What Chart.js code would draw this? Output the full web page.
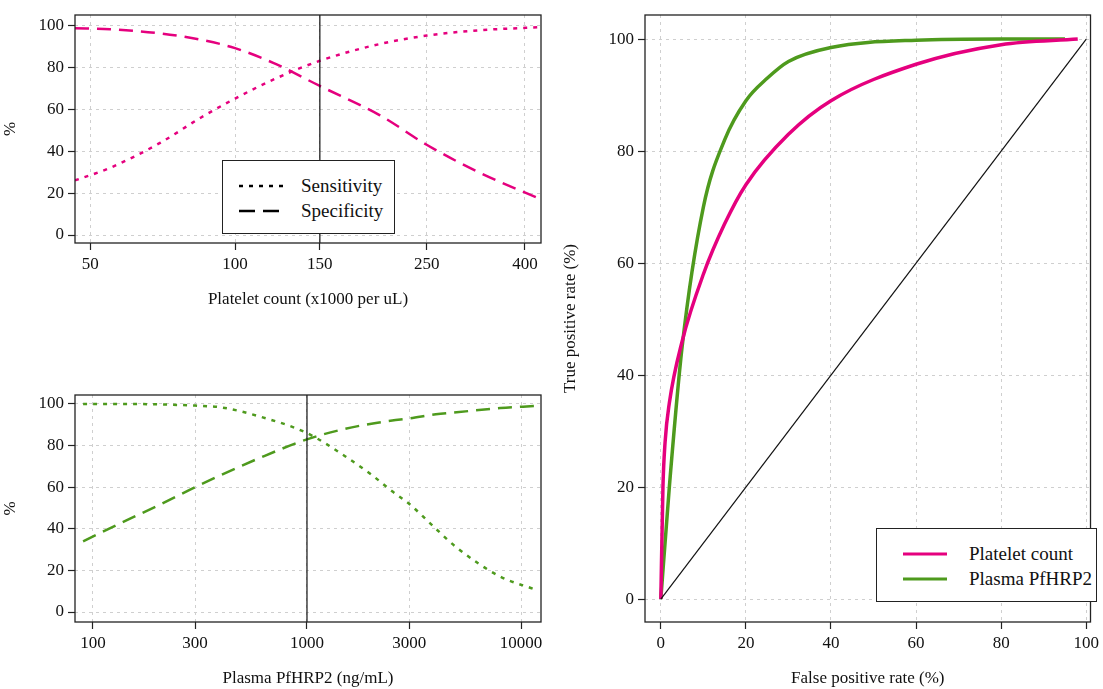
<!DOCTYPE html>
<html><head><meta charset="utf-8">
<script src="https://cdn.jsdelivr.net/npm/chart.js@4"></script>
<style>
body{margin:0;background:#fff;width:1103px;height:689px;overflow:hidden;position:relative;font-family:"Liberation Serif","DejaVu Serif",serif;}
.c{position:absolute;}
.leg{position:absolute;border:1.3px solid #222;background:#fff;font-size:19px;color:#111;}
.leg div{display:flex;align-items:center;height:25px;}
.leg svg{margin:0 14px 0 14px;}
</style></head><body>
<div class="c" style="left:0;top:0;width:560px;height:310px"><canvas id="c1"></canvas></div>
<div class="c" style="left:0;top:380px;width:560px;height:309px"><canvas id="c2"></canvas></div>
<div class="c" style="left:560px;top:0;width:543px;height:689px"><canvas id="c3"></canvas></div>
<div class="leg" style="left:222px;top:160px;width:173px;height:74px;padding-top:12px;box-sizing:border-box">
 <div><svg width="50" height="4"><line x1="2" y1="2" x2="48" y2="2" stroke="#000" stroke-width="2.5" stroke-dasharray="4,6"/></svg>Sensitivity</div>
 <div><svg width="50" height="4"><line x1="2" y1="2" x2="48" y2="2" stroke="#000" stroke-width="2.5" stroke-dasharray="16,8"/></svg>Specificity</div>
</div>
<div class="leg" style="left:876px;top:528px;width:221px;height:74px;padding-top:12px;box-sizing:border-box">
 <div><svg width="44" height="4" style="margin:0 22px 0 26px"><line x1="0" y1="2" x2="44" y2="2" stroke="#E5007E" stroke-width="3"/></svg>Platelet count</div>
 <div><svg width="44" height="4" style="margin:0 22px 0 26px"><line x1="0" y1="2" x2="44" y2="2" stroke="#4E9A1D" stroke-width="3"/></svg>Plasma PfHRP2</div>
</div>
<script>
const PINK="#E5007E", GREEN="#4E9A1D";
// Panel 1: platelet count
const plateletX   =[46.5,55,70,85,100,120,150,200,250,320,432];
const plateletSens=[26,32,44,56,65,74,83,91,95,97.5,99];
const plateletSpec=[98.5,98,96,93,89,82,71,57,43,30,17];
const plateletTicks=[50,100,150,250,400];
// Panel 2: plasma PfHRP2
const hrpX   =[90,150,200,300,400,600,1000,1500,2000,2500,3000,4000,5000,8000,11500];
const hrpSens=[100,100,99.8,99.2,98.3,94,86,75,66,58,52,40,31,17,11];
const hrpSpec=[34,45,51,60,66,74,83,88,90.5,92,93,95,96,98,99];
const hrpTicks=[100,300,1000,3000,10000];
// Panel 3: ROC
const rocPlateletFPR=[0,0.5,1,2,5,10,15,20,30,40,60,80,98];
const rocPlateletTPR=[0,20,28,35,46,58,67,74,83,89,95.5,99,100];
const rocHrpFPR=[0,2,5,10,15,20,25,30,40,60,80,95];
const rocHrpTPR=[0,20,45,70,82,89,93,96,98.5,99.8,100,100];
const linTicks=[0,20,40,60,80,100];

const F={family:"'Liberation Serif', serif",size:17};
Chart.defaults.color="#111";
const zip=(a,b)=>a.map((v,i)=>({x:v,y:b[i]}));
const boxPlugin={id:'box',afterDatasetsDraw(ch,a,o){const c=ch.ctx,A=ch.chartArea;c.save();
 if(o.vline!=null){const x=ch.scales.x.getPixelForValue(o.vline);c.strokeStyle='#111';c.lineWidth=1.2;c.beginPath();c.moveTo(x,A.top);c.lineTo(x,A.bottom);c.stroke();}
 c.strokeStyle='#222';c.lineWidth=1.3;c.strokeRect(A.left,A.top,A.right-A.left,A.bottom-A.top);c.restore();}};
function axis(type,min,max,ticks,title,size,pad){
 return {type,min,max,
  afterBuildTicks:s=>{s.ticks=ticks.map(v=>({value:v}));},
  afterFit:s=>{if(s.isHorizontal())s.height=size;else s.width=size;},
  ticks:{font:F,color:'#111',autoSkip:false,maxRotation:0,padding:4,callback:v=>String(v)},
  grid:{color:'#cfcfcf',tickBorderDash:[],tickColor:'#222',tickLength:7,tickWidth:1.2,lineWidth:1},
  border:{display:false,dash:[3,4]},
  title:{display:true,text:title,font:F,color:'#111',padding:pad}};
}
function mk(id,datasets,x,y,pad,vline){
 new Chart(document.getElementById(id),{type:'line',data:{datasets},
  options:{responsive:true,maintainAspectRatio:false,animation:false,
   layout:{padding:pad},
   plugins:{legend:{display:false},tooltip:{enabled:false},box:{vline}},
   elements:{point:{radius:0},line:{cubicInterpolationMode:'monotone'}},
   scales:{x,y}},plugins:[boxPlugin]});
}
mk('c1',[
 {data:zip(plateletX,plateletSens),borderColor:PINK,borderWidth:2.5,borderDash:[4,6]},
 {data:zip(plateletX,plateletSpec),borderColor:PINK,borderWidth:2.5,borderDash:[14,8]}],
 axis('logarithmic',46.5,432,plateletTicks,'Platelet count (x1000 per uL)',67,{top:12,bottom:0}),
 axis('linear',-3.8,104.8,linTicks,'%',75,{top:0,bottom:25}),
 {top:15,right:19},150);
mk('c2',[
 {data:zip(hrpX,hrpSens),borderColor:GREEN,borderWidth:2.5,borderDash:[4,6]},
 {data:zip(hrpX,hrpSpec),borderColor:GREEN,borderWidth:2.5,borderDash:[14,8]}],
 axis('logarithmic',82.5,12390,hrpTicks,'Plasma PfHRP2 (ng/mL)',67,{top:12,bottom:0}),
 axis('linear',-4.8,104.3,linTicks,'%',75,{top:0,bottom:25}),
 {top:15,right:19},1000);
mk('c3',[
 {data:[{x:0,y:0},{x:100,y:100}],borderColor:'#111',borderWidth:1.2,cubicInterpolationMode:'default',tension:0},
 {data:zip(rocPlateletFPR,rocPlateletTPR),borderColor:PINK,borderWidth:3.5},
 {data:zip(rocHrpFPR,rocHrpTPR),borderColor:GREEN,borderWidth:3.5}],
 axis('linear',-3.72,101.0,linTicks,'False positive rate (%)',67,{top:12,bottom:0}),
 axis('linear',-4.1,104.3,linTicks,'True positive rate (%)',85,{top:0,bottom:20}),
 {top:15,right:0},null);
</script></body></html>
